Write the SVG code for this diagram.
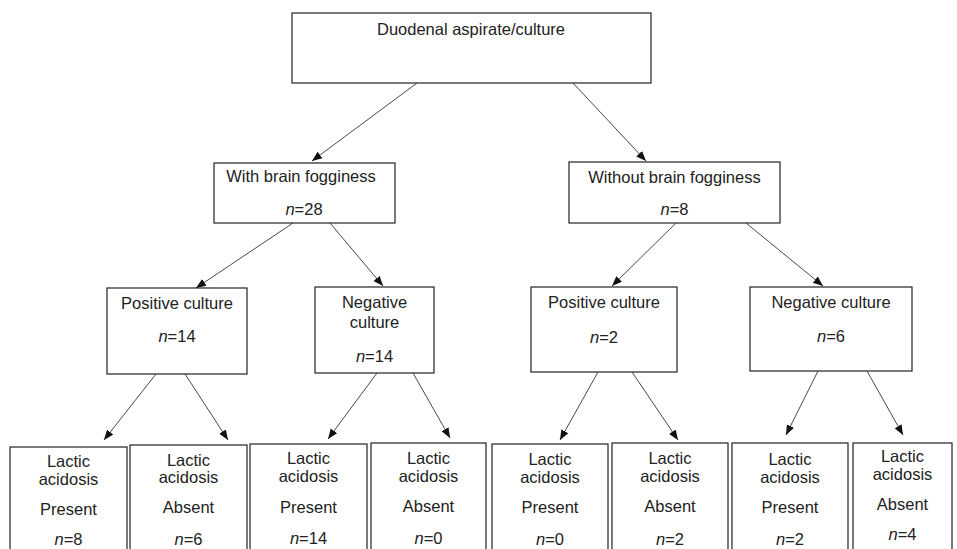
<svg xmlns="http://www.w3.org/2000/svg" width="957" height="549" viewBox="0 0 957 549">
<style>
.box{fill:#fff;stroke:#222;stroke-width:1.2}
text{font-family:"Liberation Sans",Arial,sans-serif;font-size:16.5px;fill:#222;text-anchor:middle}
.it{font-style:italic}
.con line{stroke:#333;stroke-width:0.9;marker-end:url(#ah)}
</style>
<defs>
<marker id="ah" viewBox="0 0 10 10" refX="10" refY="5" markerWidth="10" markerHeight="10" markerUnits="userSpaceOnUse" orient="auto">
<path d="M0,1 L10,5 L0,9 z" fill="#111"/>
</marker>
</defs>
<rect width="957" height="549" fill="#fff"/>
<g id="top"><rect class="box" x="292" y="13" width="359" height="70"/><text x="471" y="35">Duodenal aspirate/culture</text></g>
<g id="with"><rect class="box" x="214" y="163" width="181" height="60"/><text x="301" y="182">With brain fogginess</text><text x="304" y="215"><tspan class="it">n</tspan>=28</text></g>
<g id="without"><rect class="box" x="569" y="162" width="211" height="61"/><text x="674.5" y="183">Without brain fogginess</text><text x="674.5" y="215"><tspan class="it">n</tspan>=8</text></g>
<g id="posL"><rect class="box" x="107" y="288" width="140" height="86"/><text x="177" y="309">Positive culture</text><text x="177" y="342"><tspan class="it">n</tspan>=14</text></g>
<g id="negL"><rect class="box" x="315" y="287" width="119" height="86"/><text x="374.5" y="308">Negative</text><text x="374.5" y="328">culture</text><text x="374.5" y="362"><tspan class="it">n</tspan>=14</text></g>
<g id="posR"><rect class="box" x="531" y="287" width="146" height="85"/><text x="604" y="308">Positive culture</text><text x="604" y="343"><tspan class="it">n</tspan>=2</text></g>
<g id="negR"><rect class="box" x="750" y="287" width="162" height="84"/><text x="831" y="308">Negative culture</text><text x="831" y="342"><tspan class="it">n</tspan>=6</text></g>
<g id="b1"><rect class="box" x="10" y="447" width="117" height="120"/><text x="68.5" y="467">Lactic</text><text x="68.5" y="485">acidosis</text><text x="68.5" y="515">Present</text><text x="68.5" y="545"><tspan class="it">n</tspan>=8</text></g>
<g id="b2"><rect class="box" x="130" y="445" width="117" height="120"/><text x="188.5" y="466">Lactic</text><text x="188.5" y="483">acidosis</text><text x="188.5" y="513">Absent</text><text x="188.5" y="545"><tspan class="it">n</tspan>=6</text></g>
<g id="b3"><rect class="box" x="250" y="444" width="117" height="120"/><text x="308.5" y="464">Lactic</text><text x="308.5" y="482">acidosis</text><text x="308.5" y="513">Present</text><text x="308.5" y="544"><tspan class="it">n</tspan>=14</text></g>
<g id="b4"><rect class="box" x="371" y="443" width="115" height="120"/><text x="428.5" y="464">Lactic</text><text x="428.5" y="482">acidosis</text><text x="428.5" y="512">Absent</text><text x="428.5" y="544"><tspan class="it">n</tspan>=0</text></g>
<g id="b5"><rect class="box" x="492" y="444" width="116" height="120"/><text x="550" y="465">Lactic</text><text x="550" y="483">acidosis</text><text x="550" y="513">Present</text><text x="550" y="545"><tspan class="it">n</tspan>=0</text></g>
<g id="b6"><rect class="box" x="612" y="443" width="116" height="120"/><text x="670" y="464">Lactic</text><text x="670" y="482">acidosis</text><text x="670" y="512">Absent</text><text x="670" y="545"><tspan class="it">n</tspan>=2</text></g>
<g id="b7"><rect class="box" x="732" y="443" width="116" height="120"/><text x="790" y="465">Lactic</text><text x="790" y="483">acidosis</text><text x="790" y="513">Present</text><text x="790" y="545"><tspan class="it">n</tspan>=2</text></g>
<g id="b8"><rect class="box" x="853" y="443" width="99" height="120"/><text x="902.5" y="462">Lactic</text><text x="902.5" y="480">acidosis</text><text x="902.5" y="510">Absent</text><text x="902.5" y="540"><tspan class="it">n</tspan>=4</text></g>
<g class="con" id="connectors">
<line x1="417" y1="83" x2="312" y2="161"/>
<line x1="573" y1="83" x2="646" y2="161"/>
<line x1="293" y1="223" x2="196" y2="288"/>
<line x1="330" y1="223" x2="383" y2="286"/>
<line x1="676" y1="223" x2="612" y2="286"/>
<line x1="746" y1="223" x2="823" y2="286"/>
<line x1="156" y1="374" x2="104" y2="440"/>
<line x1="185" y1="374" x2="228" y2="440"/>
<line x1="377" y1="373" x2="328" y2="439"/>
<line x1="413" y1="373" x2="450" y2="438"/>
<line x1="598" y1="372" x2="560" y2="440"/>
<line x1="632" y1="372" x2="678" y2="440"/>
<line x1="818" y1="371" x2="786" y2="435"/>
<line x1="867" y1="371" x2="903" y2="435"/>
</g>
</svg>
